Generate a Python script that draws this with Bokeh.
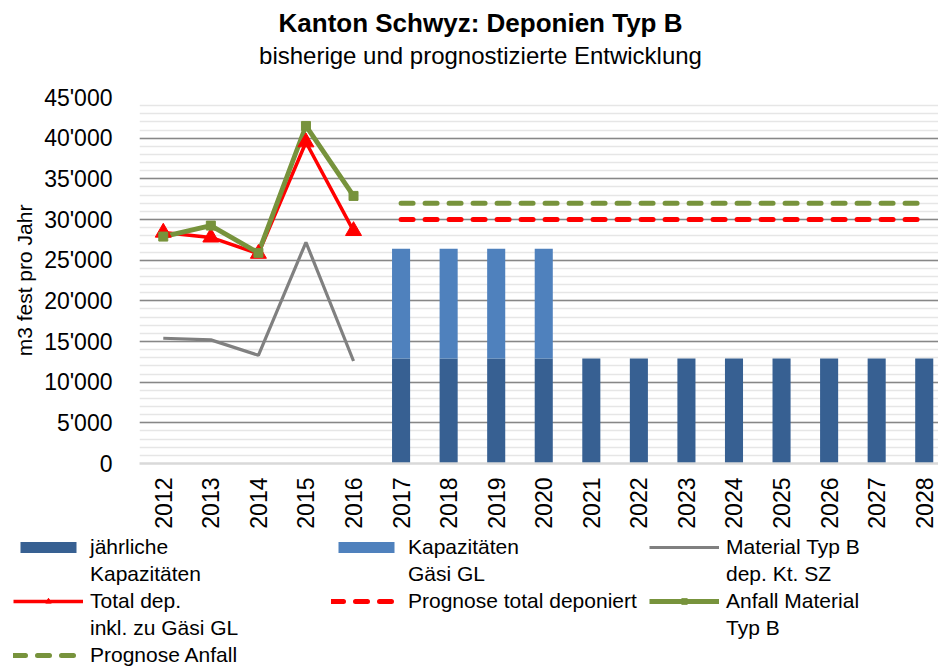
from bokeh.plotting import figure
from bokeh.models import (Range1d, FixedTicker, Label, Legend, LegendItem)
from bokeh.layouts import column
from bokeh.embed import file_html
from bokeh.resources import INLINE
import math

# ---------------- data ----------------
years = [2012, 2013, 2014, 2015, 2016, 2017, 2018, 2019, 2020, 2021, 2022,
         2023, 2024, 2025, 2026, 2027, 2028]

hist_years = [2012, 2013, 2014, 2015, 2016]
material_typ_b_sz = [15400, 15200, 13300, 27200, 12600]
total_dep = [28400, 27800, 25800, 39500, 28600]
anfall_material = [27900, 29250, 25900, 41500, 32900]

cap_years = [2017, 2018, 2019, 2020, 2021, 2022, 2023, 2024, 2025, 2026, 2027, 2028]
jaehrliche_kap = [12900, 12900, 12900, 12900, 12900, 12900, 12900, 12900,
                  12900, 12900, 12900, 12900]
gaesi_years = [2017, 2018, 2019, 2020]
gaesi_kap = [13500, 13500, 13500, 13500]

prog_years = [2017, 2018, 2019, 2020, 2021, 2022, 2023, 2024, 2025, 2026, 2027, 2028]
prognose_total = [30000, 30000, 30000, 30000, 30000, 30000, 30000, 30000,
                  30000, 30000, 30000, 30000]
prognose_anfall = [32000, 32000, 32000, 32000, 32000, 32000, 32000, 32000,
                   32000, 32000, 32000, 32000]

y_ticks = [0, 5000, 10000, 15000, 20000, 25000, 30000, 35000, 40000, 45000]
y_tick_labels = ["0", "5'000", "10'000", "15'000", "20'000", "25'000",
                 "30'000", "35'000", "40'000", "45'000"]

title_text = "Kanton Schwyz: Deponien Typ B"
subtitle_text = "bisherige und prognostizierte Entwicklung"
y_label = "m3 fest pro Jahr"

# legend entries: (first line, second line)
legend_entries = [
    ("jährliche", "Kapazitäten"),
    ("Kapazitäten", "Gäsi GL"),
    ("Material Typ B", "dep. Kt. SZ"),
    ("Total dep.", "inkl. zu Gäsi GL"),
    ("Prognose total deponiert", ""),
    ("Anfall Material", "Typ B"),
    ("Prognose Anfall", ""),
]

# ---------------- style ----------------
FONT = "Liberation Sans"
DARK = "#376092"
LIGHT = "#4f81bd"
GREY = "#808080"
RED = "#ff0000"
GREEN = "#77933c"
W = 938

# ---------------- title block ----------------
TH = 80
pt = figure(width=W, height=TH, output_backend="svg", toolbar_location=None,
            x_range=Range1d(0, W), y_range=Range1d(0, TH),
            x_axis_type=None, y_axis_type=None, min_border=0, title=None,
            frame_align=False)
pt.outline_line_color = None
pt.grid.visible = False
pt.add_layout(Label(x=480, y=TH - 22, text=title_text, text_align="center",
                    text_baseline="middle", text_font=FONT, text_font_size="26px",
                    text_font_style="bold", text_color="black"))
pt.add_layout(Label(x=480, y=TH - 55, text=subtitle_text, text_align="center",
                    text_baseline="middle", text_font=FONT, text_font_size="24px",
                    text_color="black"))

# ---------------- main chart ----------------
MH = 455
p = figure(width=W, height=MH, output_backend="svg", toolbar_location=None,
           x_range=Range1d(2011.5, 2028.3), y_range=Range1d(0, 45000),
           min_border_left=139, min_border_top=97 - TH,
           min_border_bottom=TH + MH - 463, min_border_right=0, title=None,
           frame_align=False)
p.outline_line_color = None

p.xaxis.ticker = FixedTicker(ticks=years)
p.xaxis.major_label_orientation = math.pi / 2
p.xaxis.major_label_text_font = FONT
p.xaxis.major_label_text_font_size = "23px"
p.xaxis.major_label_text_color = "black"
p.xaxis.major_label_standoff = 8
p.xaxis.axis_line_color = "#d9d9d9"
p.xaxis.axis_line_width = 2.5
p.xaxis.major_tick_line_color = None
p.xaxis.minor_tick_line_color = None

p.yaxis.ticker = FixedTicker(ticks=y_ticks)
p.yaxis.major_label_overrides = {t: l for t, l in zip(y_ticks, y_tick_labels)}
p.yaxis.major_label_text_font = FONT
p.yaxis.major_label_text_font_size = "23px"
p.yaxis.major_label_text_color = "black"
p.yaxis.major_label_standoff = 21
p.yaxis.axis_line_color = None
p.yaxis.major_tick_line_color = None
p.yaxis.minor_tick_line_color = None
p.yaxis.axis_label = y_label
p.yaxis.axis_label_text_font = FONT
p.yaxis.axis_label_text_font_size = "21px"
p.yaxis.axis_label_text_font_style = "normal"
p.yaxis.axis_label_text_color = "black"
p.yaxis.axis_label_standoff = 5

p.xgrid.visible = False
p.ygrid.ticker = FixedTicker(ticks=y_ticks[1:],
                             minor_ticks=list(range(0, 45001, 1000)))
p.ygrid.grid_line_color = "#878787"
p.ygrid.grid_line_width = 1.4
p.ygrid.minor_grid_line_color = "#e6e6e6"
p.ygrid.minor_grid_line_width = 1.4

bar_w = 0.38
p.vbar(x=cap_years, bottom=0, top=jaehrliche_kap, width=bar_w,
       fill_color=DARK, line_color=None)
gaesi_bottom = [jaehrliche_kap[cap_years.index(y)] for y in gaesi_years]
gaesi_top = [b + g for b, g in zip(gaesi_bottom, gaesi_kap)]
p.vbar(x=gaesi_years, bottom=gaesi_bottom, top=gaesi_top, width=bar_w,
       fill_color=LIGHT, line_color=None)

p.line(hist_years, material_typ_b_sz, line_color=GREY, line_width=3.2)
p.line(hist_years, total_dep, line_color=RED, line_width=3.5)
p.line(hist_years, anfall_material, line_color=GREEN, line_width=4.8)
p.scatter(hist_years, total_dep, marker="triangle", size=16,
          fill_color=RED, line_color=RED)
p.scatter(hist_years, anfall_material, marker="square", size=9,
          fill_color=GREEN, line_color=GREEN)
p.line(prog_years, prognose_total, line_color=RED, line_width=5,
       line_dash="12 12", line_cap="round")
p.line(prog_years, prognose_anfall, line_color=GREEN, line_width=5,
       line_dash="12 12", line_cap="round")

# ---------------- legend block ----------------
LH = 666 - TH - MH
pl = figure(width=W, height=LH, output_backend="svg", toolbar_location=None,
            x_range=Range1d(0, W), y_range=Range1d(0, LH),
            x_axis_type=None, y_axis_type=None, min_border=0, title=None,
            frame_align=False)
pl.outline_line_color = None
pl.grid.visible = False
# legend proxies: one point each, placed outside the visible range
ox, oy = [-100], [-100]
l_dark = pl.vbar(x=ox, top=oy, width=1, fill_color=DARK, line_color=None)
l_light = pl.vbar(x=ox, top=oy, width=1, fill_color=LIGHT, line_color=None)
l_grey = pl.line(ox, oy, line_color=GREY, line_width=3.2)
l_red = pl.line(ox, oy, line_color=RED, line_width=3.5)
l_red_m = pl.scatter(ox, oy, marker="triangle", size=10, fill_color=RED, line_color=RED)
l_prog_t = pl.line(ox, oy, line_color=RED, line_width=5, line_dash="12 12", line_cap="round")
l_green = pl.line(ox, oy, line_color=GREEN, line_width=4.8)
l_green_m = pl.scatter(ox, oy, marker="square", size=8, fill_color=GREEN, line_color=GREEN)
l_prog_a = pl.line(ox, oy, line_color=GREEN, line_width=5, line_dash="12 12", line_cap="round")
l_blank = pl.line(ox, oy, line_alpha=0)

renderer_sets = [[l_dark], [l_light], [l_grey], [l_red, l_red_m], [l_prog_t],
                 [l_green, l_green_m], [l_prog_a]]

# build a 3-column grid: glyph + first line, then a row with the second lines
ncols = 3
items = []
for start in range(0, len(legend_entries), ncols):
    block = list(zip(legend_entries, renderer_sets))[start:start + ncols]
    for (first, _), rs in block:
        items.append(LegendItem(label=first, renderers=rs))
    if any(second for (_, second), _ in block):
        for (_, second), _ in block:
            items.append(LegendItem(label=second if second else " ",
                                    renderers=[l_blank]))

legend = Legend(items=items, location=(13, -2), orientation="horizontal",
                ncols=ncols, glyph_width=70, glyph_height=14, label_standoff=7,
                label_width=241, label_height=27, spacing=0, padding=0, margin=0,
                border_line_color=None, background_fill_alpha=0,
                label_text_font=FONT, label_text_font_size="21px",
                label_text_color="black")
pl.add_layout(legend, "center")

layout = column(pt, p, pl, spacing=0)
open("out.html", "w").write(file_html(layout, INLINE))
